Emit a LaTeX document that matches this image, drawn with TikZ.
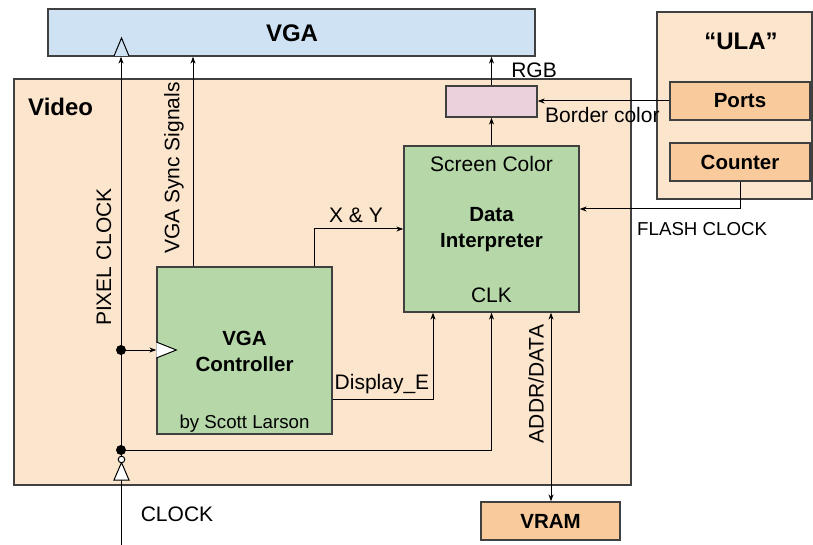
\documentclass[tikz,border=0pt]{standalone}
\usepackage{fontspec}
\setmainfont{Liberation Sans}
\usetikzlibrary{arrows.meta}
\definecolor{vgablue}{HTML}{CFE2F3}
\definecolor{videobg}{HTML}{FCE5CD}
\definecolor{greenbx}{HTML}{B6D7A8}
\definecolor{orangebx}{HTML}{F9CB9C}
\definecolor{pinkbx}{HTML}{EAD1DC}
\definecolor{linec}{HTML}{404040}
\tikzset{
  blk/.style={draw=linec, line width=1.3pt, inner sep=0pt, rectangle},
  wire/.style={draw=black, line width=1pt},
  arr/.style={wire, -{Stealth[length=7pt,width=5pt]}},
  biarr/.style={wire, {Stealth[length=7pt,width=5pt]}-{Stealth[length=7pt,width=5pt]}},
  ttl/.style={font=\fontsize{24}{28}\selectfont\bfseries},
  bld/.style={font=\fontsize{20.5}{26}\selectfont\bfseries, align=center},
  reg/.style={font=\fontsize{21}{25}\selectfont, inner sep=0pt},
  sml/.style={font=\fontsize{18.7}{22}\selectfont, inner sep=0pt},
  dot/.style={circle, fill=black, inner sep=0pt, minimum size=10pt}
}
\begin{document}
\begin{tikzpicture}[x=1pt, y=-1pt]
\useasboundingbox (0,0) rectangle (813,545);
% containers
\node[blk, fill=videobg, minimum width=617pt, minimum height=406pt] (video) at (322.5,282) {};
\node[blk, fill=videobg, minimum width=155pt, minimum height=187pt] (ula) at (734.5,105.5) {};
\node[blk, fill=vgablue, minimum width=487pt, minimum height=47pt] (vga) at (291.5,32.5) {};
% inner boxes
\node[blk, fill=orangebx, minimum width=140pt, minimum height=38pt, bld] (ports) at (740,101) {Ports};
\node[blk, fill=orangebx, minimum width=140pt, minimum height=38pt, bld] (counter) at (740,162) {Counter};
\node[blk, fill=pinkbx, minimum width=91pt, minimum height=31pt] (pink) at (491.5,101.5) {};
\node[blk, fill=greenbx, minimum width=175pt, minimum height=166pt] (data) at (491.5,229) {};
\node[blk, fill=greenbx, minimum width=175pt, minimum height=167pt] (ctrl) at (244.5,350.5) {};
\node[blk, fill=orangebx, minimum width=139pt, minimum height=38pt, bld] (vram) at (550.5,521) {VRAM};
% titles
\node[ttl] (vgat) at (292,33) {VGA};
\node[ttl, anchor=west, inner sep=0pt] (videot) at (28,107) {Video};
\node[ttl] (ulat) at (741,41) {“ULA”};
% text inside boxes
\node[reg] (scol) at (491.5,164) {Screen Color};
\node[bld] (dint) at (491.5,230) {Data\\Interpreter};
\node[reg] (clk) at (491.5,295) {CLK};
\node[bld] (vctl) at (244.5,351) {VGA\\Controller};
\node[sml] (scott) at (244.5,424) {by Scott Larson};
% coordinates
\coordinate (clkin) at (121,545);
\coordinate (d1) at (121,350);
\coordinate (d2) at (121,450);
% pixel clock line
\draw[arr] (clkin) -- (vga.south -| d1);
% clock symbol on VGA
\draw[wire, fill=vgablue] (114,56) -- (121.5,38) -- (129,56);
% branches
\draw[arr] (d1) -- (ctrl.west |- d1);
\draw[wire, fill=white] (ctrl.west |- d1) ++(0,-8) -- ++(20,8) -- ++(-20,8);
\draw[arr] (d2) -| ([xshift=0pt]data.south);
\node[dot] (dot1) at (d1) {};
\node[dot] (dot2) at (d2) {};
% inverter symbol
\draw[wire, fill=white] (114,480) -- (121.5,462.5) -- (129,480) -- cycle;
\draw[wire, fill=white] (121.5,459.5) circle (3.3pt);
% sync signals
\draw[arr] (ctrl.north -| 193,0) -- (vga.south -| 193,0);
% X & Y
\draw[arr] (ctrl.north -| 314,0) |- (data.west |- 0,229);
% Display_E
\draw[arr] (ctrl.east |- 0,399) -| (data.south -| 433,0);
% ADDR/DATA
\draw[biarr] (data.south -| 551,0) -- (vram.north -| 551,0);
% data -> pink -> VGA
\draw[arr] (data.north) -- (pink.south);
\draw[arr] (pink.north) -- (vga.south -| pink.north);
% ports -> pink
\draw[arr] (ports.west) -- (pink.east |- ports.west);
% counter -> data
\draw[arr] (counter.south) |- (data.east |- 0,209);
% labels
\node[reg] (rgbl) at (534,70) {RGB};
\node[reg, anchor=west] (bcl) at (545,115) {Border color};
\node[sml, anchor=west] (fcl) at (637,229) {FLASH CLOCK};
\node[reg] (xyl) at (356,215) {X \& Y};
\node[reg] (del) at (382,384) {Display\_E};
\node[reg, rotate=90] (vssl) at (174,168) {VGA Sync Signals};
\node[reg, rotate=90] (pcl) at (104,257) {PIXEL CLOCK};
\node[reg, rotate=90] (adl) at (536,384) {ADDR/DATA};
\node[reg] (clkl) at (177,514) {CLOCK};
\end{tikzpicture}
\end{document}
